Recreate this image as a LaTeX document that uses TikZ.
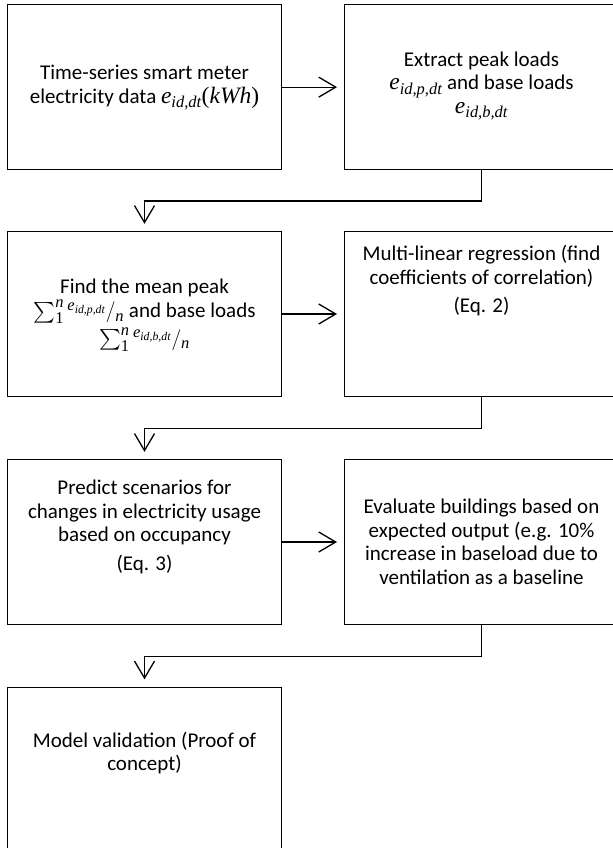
\RequirePackage{fix-cm}
\documentclass[tikz,border=0pt]{standalone}
\usepackage{amsmath}
\usepackage{fontspec}
\setmainfont{Carlito}
\newfontfamily\cambriafam[Scale=1.12]{Liberation Serif}
\newcommand\mv[1]{\text{\cambriafam\itshape #1}}
\newcommand\mup[1]{\text{\cambriafam #1}}
\usetikzlibrary{arrows.meta}
\begin{document}
\begin{tikzpicture}[x=1bp,y=-1bp,
  box/.style={draw=black, line width=1bp, minimum width=274.4bp, minimum height=164.3bp, inner sep=0pt, outer sep=0pt},
  txt/.style={align=center, font=\fontsize{21bp}{23.5bp}\selectfont, inner sep=0pt},
  conn/.style={line width=1.3bp, -{Straight Barb[length=17bp,width=20bp]}}]
\useasboundingbox (0,0) rectangle (613,848);
\fill[white] (0,0) rectangle (613,848);
\clip (0,0) rectangle (613,848);
% boxes
\node[box] (b1) at (144.5,87.15) {};
\node[box] (b2) at (481.5,87.15) {};
\node[box] (b3) at (144.5,314) {};
\node[box] (b4) at (481.5,314) {};
\node[box] (b5) at (144.5,542) {};
\node[box] (b6) at (481.5,542) {};
\node[box] (b7) at (144.5,769.5) {};
% texts
\node[txt] (t1) at (144.5,87.5) {Time-series smart meter\\electricity data $\mv{e}_{\mv{id,dt}}\mup{(}\mv{kWh}\mup{)}$};
\node[txt] (t2) at (481.5,86) {Extract peak loads\\$\mv{e}_{\mv{id,p,dt}}$ and base loads\\$\mv{e}_{\mv{id,b,dt}}$};
\node[txt] (t3) at (144.5,315) {Find the mean peak\\[1bp]$\sum_{\mup{1}}^{\mv{n}}{}^{\mv{e}_{\mv{id,p,dt}}}/{}_{\mv{n}}$ and base loads\\[4bp]$\sum_{\mup{1}}^{\mv{n}}{}^{\mv{e}_{\mv{id,b,dt}}}/{}_{\mv{n}}$};
\node[txt] (t4) at (481.5,281) {Multi-linear regression (find\\coefficients of correlation)\\[5bp](Eq. 2)};
\node[txt] (t5) at (144.5,527) {Predict scenarios for\\changes in electricity usage\\based on occupancy\\[5bp](Eq. 3)};
\node[txt] (t6) at (481.5,542) {Evaluate buildings based on\\expected output (e.g. 10\%\\increase in baseload due to\\ventilation as a baseline};
\node[txt] (t7) at (144.5,753) {Model validation (Proof of\\concept)};
% connectors
\draw[conn, shorten >=7.3bp] (b1.east) -- (b2.west);
\draw[conn, shorten >=7.3bp] (b3.east) -- (b4.west);
\draw[conn, shorten >=7.3bp] (b5.east) -- (b6.west);
\draw[conn, shorten >=8bp] (b2.south) -- ++(0,31.7) -| (b3.north);
\draw[conn, shorten >=8bp] (b4.south) -- ++(0,32.3) -| (b5.north);
\draw[conn, shorten >=8bp] (b6.south) -- ++(0,32) -| (b7.north);
\end{tikzpicture}
\end{document}
